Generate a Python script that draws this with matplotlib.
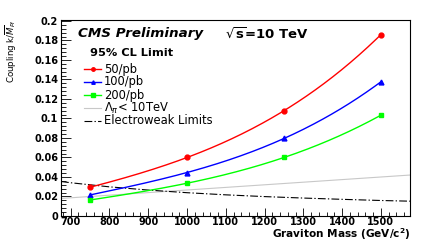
import numpy as np
import matplotlib
matplotlib.use("Agg")
import matplotlib.pyplot as plt
from matplotlib.ticker import MultipleLocator
from matplotlib.lines import Line2D

plt.rcParams['font.family'] = ['DejaVu Sans']
plt.rcParams['mathtext.fontset'] = 'dejavusans'

# Graviton mass points (GeV/c^2) and 95% CL coupling limits
mass = [750, 1000, 1250, 1500]
lim_50pb = [0.0295, 0.0600, 0.1080, 0.1860]
lim_100pb = [0.0216, 0.0446, 0.0795, 0.1376]
lim_200pb = [0.0164, 0.0336, 0.0600, 0.1034]

# Lambda_pi < 10 TeV line
lam_mass = [675, 1575]
lam_k = [0.0180, 0.0420]

# Electroweak limits
ew_mass = [675, 700, 800, 900, 1000, 1100, 1200, 1300, 1400, 1500, 1575]
ew_k = [0.0354, 0.0341, 0.0299, 0.0266, 0.0239, 0.0217, 0.0199, 0.0184, 0.0171, 0.0159, 0.0152]

W, H = 436, 245
fig = plt.figure(figsize=(W/100, H/100), dpi=100)
ax = fig.add_axes([61/W, 1-216/H, 349/W, 196/H])

# smooth curves through the points (like ROOT "C" option)
def smooth(x, y):
    c = np.polyfit(x, y, 3)
    xs = np.linspace(x[0], x[-1], 200)
    return xs, np.polyval(c, xs)

ew_style = (0, (7, 2, 1.2, 2))
ax.plot(lam_mass, lam_k, color='#c8c8c8', lw=0.8)
ax.plot(ew_mass, ew_k, color='black', lw=0.8, ls=ew_style)

series = [(lim_50pb, 'red', 'o', '50/pb'),
          (lim_100pb, 'blue', '^', '100/pb'),
          (lim_200pb, '#00ff00', 's', '200/pb')]
for vals, col, mk, lab in series:
    xs, ys = smooth(mass, vals)
    ax.plot(xs, ys, color=col, lw=1.0)
    ax.plot(mass, vals, color=col, marker=mk, ls='none', ms=3.5)

ax.set_xlim(675, 1575)
ax.set_ylim(0, 0.201)
ax.xaxis.set_major_locator(MultipleLocator(100))
ax.xaxis.set_minor_locator(MultipleLocator(20))
ax.yaxis.set_minor_locator(MultipleLocator(0.004))
ax.tick_params(which='both', direction='in', top=False, right=False, width=0.6)
ax.tick_params(which='major', axis='y', length=7, pad=2)
ax.tick_params(which='minor', axis='y', length=3.5)
ax.tick_params(which='major', axis='x', length=5.5, pad=0.5)
ax.tick_params(which='minor', axis='x', length=2.8)
ax.tick_params(labelsize=7)
ax.set_yticks(np.arange(0, 0.201, 0.02))
ax.set_yticklabels(['0', '0.02', '0.04', '0.06', '0.08', '0.1', '0.12', '0.14', '0.16', '0.18', '0.2'])
for t in ax.get_xticklabels() + ax.get_yticklabels():
    t.set_fontweight('bold')
for s in ax.spines.values():
    s.set_linewidth(0.8)

ax.set_xlabel(r'Graviton Mass (GeV/c$^{\mathbf{2}}$)', fontsize=7.6, fontweight='bold')
ax.xaxis.set_label_coords(1.0, -(234 - 216) / 196)
ax.xaxis.label.set_horizontalalignment('right')
ax.xaxis.label.set_verticalalignment('center')
ax.set_ylabel(r'Coupling k/$\overline{M}_{Pl}$', fontsize=6.2,
              family=['Liberation Sans Narrow', 'DejaVu Sans'])
ax.yaxis.set_label_coords(-(61 - 11) / 349, 1.0)
ax.yaxis.label.set_horizontalalignment('right')
ax.yaxis.label.set_verticalalignment('center')

fig.text(78/W, 1-34/H, 'CMS Preliminary', fontsize=9.7, fontweight='bold', fontstyle='italic', va='center')
fig.text(225/W, 1-34/H, r'$\mathbf{\sqrt{s}}$=10 TeV', fontsize=9.5, fontweight='bold', va='center')

# legend, drawn by hand in figure pixels
fig.text(90/W, 1-53/H, '95% CL Limit', fontsize=8.2, fontweight='bold', va='center')
leg_rows = [('red', 'o', '-', 1.0, '50/pb'),
            ('blue', '^', '-', 1.0, '100/pb'),
            ('#00ff00', 's', '-', 1.0, '200/pb'),
            ('#c8c8c8', None, '-', 0.8, r'$\Lambda_{\pi}$< 10TeV'),
            ('black', None, ew_style, 0.8, 'Electroweak Limits')]
row_y = [69, 82, 95, 108.5, 121]
for (col, mk, ls, lw, lab), y in zip(leg_rows, row_y):
    fy = 1 - y/H
    fig.add_artist(Line2D([84/W, 101/W], [fy, fy], color=col, lw=lw, ls=ls))
    if mk:
        fig.add_artist(Line2D([92.5/W], [fy], color=col, marker=mk, ms=2.5, ls='none'))
    fig.text(104/W, fy, lab, fontsize=8.3, va='center')

fig.savefig('out.png', dpi=100)
